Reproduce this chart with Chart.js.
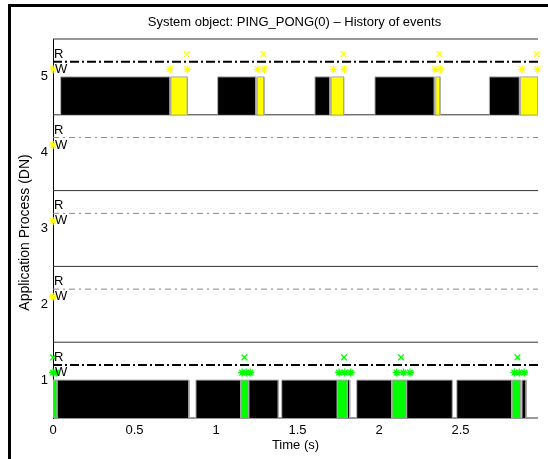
<!DOCTYPE html>
<html><head><meta charset="utf-8">
<script src="https://cdn.jsdelivr.net/npm/chart.js@4.4.1/dist/chart.umd.min.js"></script>
<style>
html,body{margin:0;padding:0;background:#fff;}
#wrap{position:relative;width:548px;height:459px;overflow:hidden;}
#frame{position:absolute;left:8px;top:4px;width:600px;height:500px;border-top:3px solid #000;border-left:3px solid #000;}
canvas{position:absolute;left:0;top:0;}
</style></head><body>
<div id="wrap"><canvas id="c" width="548" height="459"></canvas><div id="frame"></div></div>
<script>
const chartTitle = 'System object: PING_PONG(0) \u2013 History of events';
const xLabel = 'Time (s)';
const yLabel = 'Application Process (DN)';
const xTicks = [0, 0.5, 1, 1.5, 2, 2.5];
const yTicks = [1, 2, 3, 4, 5];
const xMax = 2.975;
const processes = [1, 2, 3, 4, 5];
const activeProcesses = [1, 5];

// process 5 (yellow)
const p5Busy  = [[0.047,0.718],[1.010,1.245],[1.607,1.699],[1.975,2.339],[2.677,2.861]];
const p5Send  = [[0.724,0.824],[1.253,1.294],[1.707,1.783],[2.348,2.374],[2.867,2.975]];
const p5Write = [0,0.718,0.824,1.256,1.296,1.72,1.787,2.344,2.378,2.877,2.972];
const p5Read  = [0.82,1.29,1.781,2.37,2.967];
// process 1 (green)
const p1Busy  = [[0.026,0.834],[0.877,1.151],[1.202,1.382],[1.403,1.744],[1.806,1.82],[1.863,2.078],[2.170,2.45],[2.477,2.814],[2.877,2.902]];
const p1Send  = [[0,0.026],[1.151,1.202],[1.744,1.806],[2.078,2.170],[2.814,2.869]];
const p1Write = [0,0.02,1.16,1.185,1.21,1.755,1.79,1.826,2.108,2.15,2.19,2.83,2.86,2.89];
const p1Read  = [0,1.174,1.785,2.135,2.849];
// processes 2-4 (yellow, idle)
const pIdleWrite = [0];
const pIdleRead = [];

const YELLOW = '#ffff00', GREEN = '#00ff00';
const rows = [
  {k:5, busy:p5Busy, send:p5Send, write:p5Write, read:p5Read, color:YELLOW},
  {k:4, busy:[], send:[], write:pIdleWrite, read:pIdleRead, color:YELLOW},
  {k:3, busy:[], send:[], write:pIdleWrite, read:pIdleRead, color:YELLOW},
  {k:2, busy:[], send:[], write:pIdleWrite, read:pIdleRead, color:YELLOW},
  {k:1, busy:p1Busy, send:p1Send, write:p1Write, read:p1Read, color:GREEN}
];

const datasets = [];
function rect(iv, k, color){
  return {type:'line', data:[{x:iv[0],y:k-0.5},{x:iv[0],y:k},{x:iv[1],y:k},{x:iv[1],y:k-0.5}],
    fill:{value:k-0.5}, backgroundColor:color, borderColor:'#a8a8a8', borderWidth:1,
    pointRadius:0, tension:0, order:5};
}
// separator / idle lines
[0.5,1.5,2.5,3.5,4.5,5.5].forEach(v=>{
  datasets.push({type:'line', data:[{x:0,y:v},{x:xMax,y:v}], borderColor:'#333', borderWidth:1,
    pointRadius:0, fill:false, order:10, clip:false});
});
rows.forEach(r=>{
  const active = activeProcesses.includes(r.k);
  datasets.push({type:'line', data:[{x:0,y:r.k+0.2},{x:xMax,y:r.k+0.2}],
    borderColor: active ? '#000' : '#8a8a8a', borderWidth: active ? 2 : 1,
    borderDash: active ? [9,3,2,3] : [6,4,2,4], pointRadius:0, fill:false, order:3});
  r.busy.forEach(iv=>datasets.push(rect(iv, r.k, '#000')));
  r.send.forEach(iv=>datasets.push(rect(iv, r.k, r.color)));
  datasets.push({type:'scatter', data:r.write.map(x=>({x:x,y:r.k+0.1})), pointStyle:'star',
    pointRadius:4, borderColor:r.color, backgroundColor:r.color, pointBorderWidth:1.3, order:1, clip:false});
  if (r.read.length) datasets.push({type:'scatter', data:r.read.map(x=>({x:x,y:r.k+0.3})), pointStyle:'crossRot',
    pointRadius:4, borderColor:r.color, backgroundColor:r.color, pointBorderWidth:1.3, order:1, clip:false});
});

const FONT = '"Liberation Sans", Arial, Helvetica, sans-serif';
const textPlugin = {
  id:'texts',
  afterDatasetsDraw(chart){
    const {ctx, chartArea:a, scales:{x, y}} = chart;
    ctx.save();
    ctx.fillStyle = '#000';
    ctx.font = '13px ' + FONT;
    ctx.textAlign = 'left'; ctx.textBaseline = 'middle';
    processes.forEach(k=>{
      ctx.fillText('R', x.getPixelForValue(0)+1, y.getPixelForValue(k+0.3));
      ctx.fillText('W', x.getPixelForValue(0)+2, y.getPixelForValue(k+0.1));
    });
    ctx.textAlign = 'center';
    ctx.font = '13px ' + FONT;
    ctx.fillText(chartTitle, (a.left+a.right)/2 - 1, 22);
    ctx.fillText(xLabel, (a.left+a.right)/2, 445);
    ctx.font = '14px ' + FONT;
    ctx.translate(25, (a.top+a.bottom)/2 + 4);
    ctx.rotate(-Math.PI/2);
    ctx.fillText(yLabel, 0, 0);
    ctx.restore();
  }
};

new Chart(document.getElementById('c'), {
  type:'scatter',
  data:{datasets},
  options:{
    responsive:false, animation:false, events:[],
    layout:{padding:{top:39, right:10, left:0, bottom:0}},
    plugins:{legend:{display:false}, tooltip:{enabled:false}},
    scales:{
      x:{type:'linear', min:0, max:xMax,
        afterBuildTicks:s=>{s.ticks = xTicks.map(v=>({value:v}));},
        afterFit:s=>{s.height = 41;},
        ticks:{padding:5, color:'#000', font:{size:13, family:FONT}, callback:v=>String(v), maxRotation:0, autoSkip:false},
        grid:{display:false, drawTicks:false}, border:{display:false}},
      y:{type:'linear', min:0.5, max:5.5,
        afterBuildTicks:s=>{s.ticks = yTicks.map(v=>({value:v}));},
        afterFit:s=>{s.width = 53;},
        ticks:{padding:5, color:'#000', font:{size:13, family:FONT}, callback:v=>String(v), autoSkip:false},
        grid:{display:false, drawTicks:false}, border:{display:true, color:'#000', width:1}}
    }
  },
  plugins:[textPlugin]
});
</script>
</body></html>
